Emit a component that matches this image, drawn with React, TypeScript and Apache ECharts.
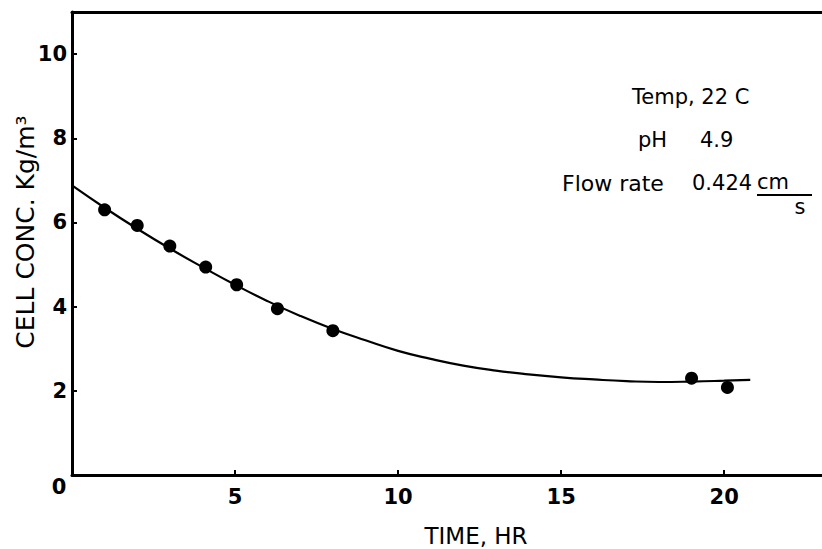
import React, { useEffect, useRef } from "react";
import * as echarts from "echarts";

// Measured data points (time in hr, cell concentration in kg/m^3)
const pointTimes = [1, 2, 3, 4.1, 5.05, 6.3, 8, 19, 20.1];
const pointConc = [6.3, 5.93, 5.44, 4.94, 4.52, 3.95, 3.43, 2.3, 2.08];

// Fitted curve
const curveTimes = [0, 1, 2, 3, 4, 5, 6, 7, 8, 9, 10, 11, 12, 13, 14, 15, 16, 17, 18, 19, 20, 20.8];
const curveConc = [6.88, 6.35, 5.85, 5.38, 4.94, 4.52, 4.13, 3.78, 3.47, 3.2, 2.95, 2.76, 2.6, 2.48, 2.39, 2.32, 2.27, 2.23, 2.21, 2.22, 2.24, 2.26];

const xTicks = [0, 5, 10, 15, 20];
const yTicks = [0, 2, 4, 6, 8, 10];

const FONT = "DejaVu Sans";

export default function App() {
  const ref = useRef<HTMLDivElement>(null);
  useEffect(() => {
    if (!ref.current) return;
    const chart = echarts.init(ref.current, undefined, { renderer: "svg" });
    const pts = pointTimes.map((t, i) => [t, pointConc[i]]);
    const curve = curveTimes.map((t, i) => [t, curveConc[i]]);
    const textStyle = (text: string, x: number, y: number, size: number, align = "left", weight = "normal") => ({
      type: "text",
      x,
      y,
      style: {
        text,
        fontFamily: FONT,
        fontSize: size,
        fontWeight: weight,
        fill: "#000",
        textAlign: align,
        textVerticalAlign: "middle",
      },
    });
    chart.setOption({
      animation: false,
      backgroundColor: "#fff",
      grid: { left: 72, top: 12, right: 0, bottom: 74, containLabel: false },
      xAxis: [
        {
          type: "value",
          min: 0,
          max: 23,
          interval: 5,
          axisLine: { show: true, onZero: false, lineStyle: { color: "#000", width: 3 } },
          axisTick: { show: true, inside: true, length: 5, lineStyle: { color: "#000", width: 2 } },
          axisLabel: {
            showMinLabel: false,
            showMaxLabel: false,
            margin: 11,
            color: "#000",
            fontFamily: FONT,
            fontSize: 21,
            fontWeight: "bold",
            formatter: (v: number) => (xTicks.includes(v) ? String(v) : ""),
          },
          splitLine: { show: false },
        },
        {
          type: "value",
          position: "top",
          min: 0,
          max: 23,
          axisLine: { show: true, onZero: false, lineStyle: { color: "#000", width: 3 } },
          axisTick: { show: false },
          axisLabel: { show: false },
          splitLine: { show: false },
        },
      ],
      yAxis: {
        type: "value",
        min: 0,
        max: 11,
        interval: 2,
        axisLine: { show: true, onZero: false, lineStyle: { color: "#000", width: 3 } },
        axisTick: { show: true, inside: true, length: 5, lineStyle: { color: "#000", width: 2 } },
        axisLabel: {
          showMinLabel: false,
          showMaxLabel: false,
          margin: 5,
          color: "#000",
          fontFamily: FONT,
          fontSize: 21,
          fontWeight: "bold",
          formatter: (v: number) => (yTicks.includes(v) ? String(v) : ""),
        },
        splitLine: { show: false },
      },
      series: [
        {
          type: "line",
          data: curve,
          smooth: true,
          showSymbol: false,
          lineStyle: { color: "#000", width: 2.2 },
          silent: true,
        },
        {
          type: "scatter",
          data: pts,
          symbol: "circle",
          symbolSize: 13,
          itemStyle: { color: "#000", opacity: 1 },
        },
      ],
      graphic: [
        textStyle("0", 59, 487, 21, "center", "bold"),
        textStyle("TIME, HR", 476, 536, 23, "center"),
        {
          type: "text",
          x: 25,
          y: 232,
          rotation: Math.PI / 2,
          style: {
            text: "CELL CONC. Kg/m³",
            fontFamily: FONT,
            fontSize: 25,
            fill: "#000",
            textAlign: "center",
            textVerticalAlign: "middle",
          },
        },
        textStyle("Temp, 22 C", 632, 97, 21),
        textStyle("pH", 638, 140, 21),
        textStyle("4.9", 700, 140, 21),
        textStyle("Flow rate", 562, 183, 22),
        textStyle("0.424", 692, 183, 21),
        textStyle("cm", 757, 182, 21),
        {
          type: "line",
          shape: { x1: 757, y1: 195, x2: 812, y2: 195 },
          style: { stroke: "#000", lineWidth: 2 },
        },
        textStyle("s", 800, 207, 21, "center"),
      ],
    });
    return () => chart.dispose();
  }, []);
  return (
    <div
      ref={ref}
      style={{ position: "fixed", left: 0, top: 0, width: 822, height: 549, background: "#fff" }}
    />
  );
}
